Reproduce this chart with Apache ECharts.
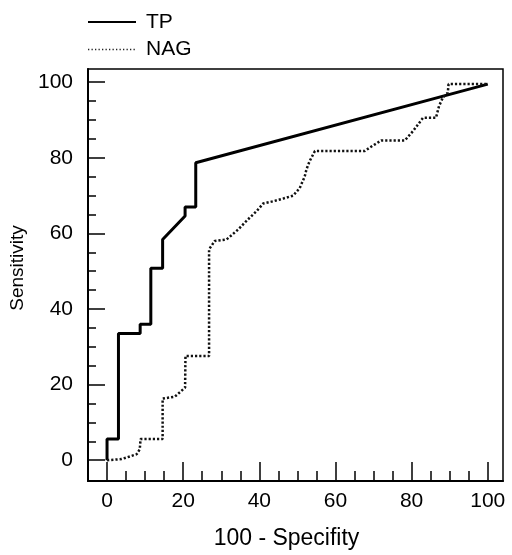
<!DOCTYPE html>
<html>
<head>
<meta charset="utf-8">
<script src="https://cdn.jsdelivr.net/npm/echarts@6/dist/echarts.min.js"></script>
<style>html,body{margin:0;padding:0;background:#fff}#c{width:512px;height:555px}</style>
</head>
<body>
<div id="c"></div>
<script>
const seriesNames = ['TP', 'NAG'];
const xTitle = '100 - Specifity';
const yTitle = 'Sensitivity';
const majorTicks = [0, 20, 40, 60, 80, 100];
const minorTicks = [0,5,10,15,20,25,30,35,40,45,50,55,60,65,70,75,80,85,90,95,100];

const tpPoints = [[0,0],[0,5.6],[3,5.6],[3,33.5],[8.7,33.5],[8.7,36],[11.5,36],[11.5,50.8],[14.6,50.8],[14.6,58.4],[20.5,64.6],[20.5,67],[23.3,67],[23.3,78.7],[100,99.5]];
const nagPoints = [[0,0],[3.8,0.3],[6,1],[7.8,1.6],[8.6,2.9],[8.8,5.6],[14.6,5.6],[14.6,16.3],[17.8,16.8],[20.5,19.2],[20.6,27.6],[26.8,27.6],[26.8,55.8],[28.3,58],[31.4,58.4],[34.4,61],[37,63.7],[39.3,65.9],[41,67.9],[43.6,68.5],[46.2,69.2],[48.9,70],[50.6,72],[51.9,75],[52.4,77],[53.2,79.1],[54.6,81.8],[67.7,81.8],[69,82.7],[72,84.6],[78.2,84.6],[80.4,87.1],[83,90.6],[86.4,90.6],[87.2,93.7],[88.2,95.9],[89.5,97.2],[89.7,99.5],[100,99.5]];

const FONT = "'Liberation Sans', Arial, Helvetica, sans-serif";
const chart = echarts.init(document.getElementById('c'), null, {renderer: 'canvas'});
const axisCommonX = {type: 'value', min: -5, max: 104, position: 'bottom', splitLine: {show: false}};
const axisCommonY = {type: 'value', min: -5.5, max: 103.5, position: 'left', splitLine: {show: false}};
chart.setOption({
  animation: false,
  backgroundColor: '#fff',
  textStyle: {fontFamily: FONT},
  grid: {left: 88, right: 9, top: 69, bottom: 73, show: true, borderColor: '#000', borderWidth: 1.5, containLabel: false},
  legend: {
    orient: 'vertical', left: 87, top: 11, padding: 0, itemWidth: 48, itemHeight: 14, itemGap: 5.5,
    textStyle: {fontFamily: FONT, fontSize: 21, color: '#000', lineHeight: 22, padding: [0,0,0,5]},
    data: [
      {name: seriesNames[0], itemStyle: {opacity: 0}, lineStyle: {width: 2, color: '#000', type: 'solid'}},
      {name: seriesNames[1], itemStyle: {opacity: 0}, lineStyle: {width: 1.3, color: '#222', type: [1.3, 2.2]}}
    ]
  },
  xAxis: [
    Object.assign({}, axisCommonX, {
      name: xTitle, nameLocation: 'middle', nameGap: 46,
      nameTextStyle: {fontFamily: FONT, fontSize: 23, color: '#000', padding: [0, 18, 0, 0]},
      axisLine: {show: true, onZero: false, lineStyle: {color: '#000', width: 2}},
      axisTick: {show: true, inside: true, length: 19, customValues: majorTicks, lineStyle: {color: '#000', width: 1.5}},
      axisLabel: {show: true, customValues: majorTicks, margin: 10, fontFamily: FONT, fontSize: 21, color: '#000'}
    }),
    Object.assign({}, axisCommonX, {
      axisLine: {show: false, onZero: false},
      axisTick: {show: true, inside: true, length: 10, customValues: minorTicks, lineStyle: {color: '#000', width: 1.5}},
      axisLabel: {show: false}
    })
  ],
  yAxis: [
    Object.assign({}, axisCommonY, {
      name: yTitle, nameLocation: 'middle', nameGap: 60, nameRotate: 90,
      nameTextStyle: {fontFamily: FONT, fontSize: 19, color: '#000', padding: [0, 0, 0, 14]},
      axisLine: {show: true, onZero: false, lineStyle: {color: '#000', width: 2}},
      axisTick: {show: true, inside: true, length: 17, customValues: majorTicks, lineStyle: {color: '#000', width: 1.5}},
      axisLabel: {show: true, customValues: majorTicks, margin: 15, fontFamily: FONT, fontSize: 21, color: '#000'}
    }),
    Object.assign({}, axisCommonY, {
      axisLine: {show: false, onZero: false},
      axisTick: {show: true, inside: true, length: 8, customValues: minorTicks, lineStyle: {color: '#000', width: 1.5}},
      axisLabel: {show: false}
    })
  ],
  series: [
    {name: seriesNames[0], type: 'line', xAxisIndex: 0, yAxisIndex: 0, data: tpPoints, symbol: 'none', lineStyle: {color: '#000', width: 3, type: 'solid'}, itemStyle: {color: '#000'}},
    {name: seriesNames[1], type: 'line', xAxisIndex: 0, yAxisIndex: 0, data: nagPoints, symbol: 'none', lineStyle: {color: '#111', width: 2.5, type: [2.2, 2]}, itemStyle: {color: '#111'}}
  ]
});
</script>
</body>
</html>
